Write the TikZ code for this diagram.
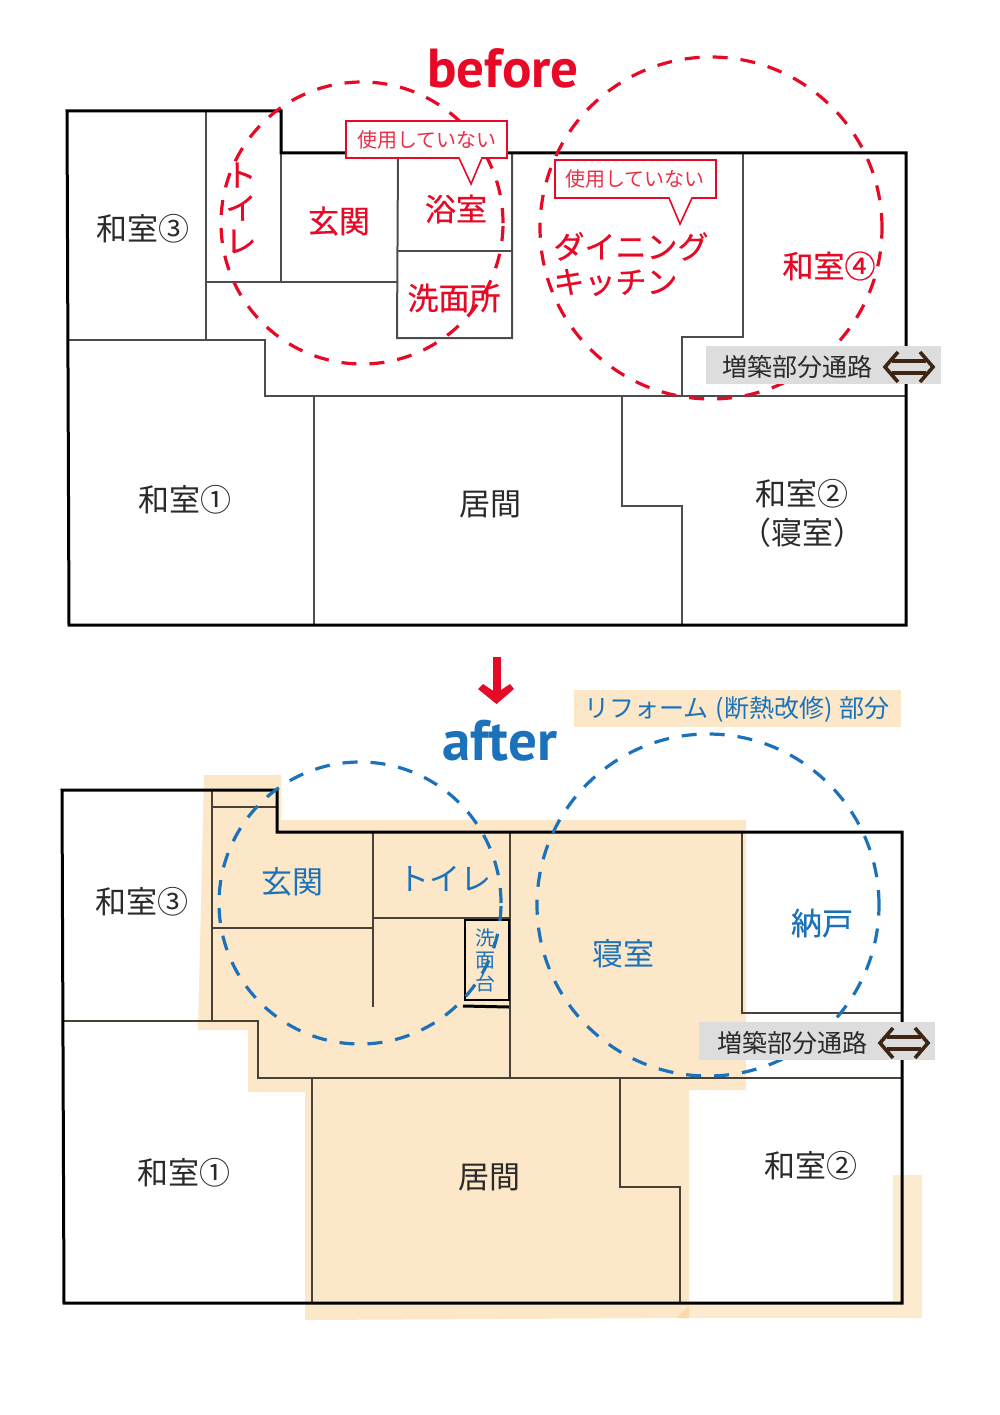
\documentclass[tikz,border=0pt]{standalone}
\usepackage{fontspec}
\setmainfont{Noto Sans CJK JP}
\newfontfamily\latinb{PT Sans}[BoldFont={PT Sans Bold}]
\definecolor{redc}{HTML}{E60A26}
\definecolor{bluec}{HTML}{1B72BA}
\definecolor{peach}{HTML}{FCE8C8}
\definecolor{peachb}{HTML}{FDEBD0}
\definecolor{peachc}{HTML}{F9D9A8}
\definecolor{grayb}{HTML}{DDDDDD}
\definecolor{brownc}{HTML}{3E2412}
\definecolor{inkc}{HTML}{2A2A2A}
\tikzset{
 thickwall/.style={line width=3pt,black,line join=miter},
 wall/.style={line width=2pt,black!70!white},
 wallb/.style={line width=2pt,black!72!peach},
 redcirc/.style={line width=3.2pt,redc,dash pattern=on 15pt off 13pt},
 bluecirc/.style={line width=3.2pt,bluec,dash pattern=on 15pt off 13pt},
 room/.style={font=\fontsize{31}{36}\selectfont,text=inkc,inner sep=0pt,align=center},
 redroom/.style={font=\fontsize{31}{35}\selectfont\addfontfeature{FakeBold=0.6},text=redc,inner sep=0pt,align=center},
 blueroom/.style={font=\fontsize{31}{36}\selectfont,text=bluec,inner sep=0pt,align=center},
 callout/.style={draw=redc,line width=1.6pt,fill=white,line join=miter},
 calltext/.style={font=\fontsize{20}{24}\selectfont,text=redc!85!white,inner sep=0pt},
 passbox/.style={fill=grayb,inner sep=0pt},
 passtext/.style={font=\fontsize{25}{30}\selectfont,text=inkc,inner sep=0pt},
 dblarrow/.style={line width=3.6pt,brownc,line join=miter},
 title/.style={font=\latinb\bfseries\fontsize{55}{58}\selectfont,inner sep=0pt},
}
\begin{document}
\begin{tikzpicture}[x=1pt,y=-1pt]
\useasboundingbox (0,0) rectangle (1000,1415);
% ---------- before ----------
\node[title,text=redc] (tb) at (503,68.5) {before};
\draw[wall] (206,111)--(206,340);
\draw[wall] (281,153)--(281,282);
\draw[wall] (206,282)--(397,282);
\draw[wall] (398,153)--(397,338)--(512,338)--(512,153);
\draw[wall] (397,251)--(512,251);
\draw[wall] (68,340)--(265,340)--(265,396)--(906,396);
\draw[wall] (314,396)--(314,625);
\draw[wall] (622,396)--(622,506)--(682,506)--(682,625);
\draw[wall] (743,153)--(743,337)--(682,337)--(682,396);
\draw[thickwall] (67,111)--(281,111)--(281,153)--(906,153)--(906,625)--(69,625)--cycle;
\node[redcirc,draw,circle,minimum size=282pt,inner sep=0pt] (c1) at (362,223) {};
\node[redcirc,draw,circle,minimum size=342pt,inner sep=0pt] (c2) at (711,228) {};
\draw[callout] (346,121)--(507,121)--(507,158)--(482,158)--(471,184)--(459,158)--(346,158)--cycle;
\draw[callout] (555,160)--(716,160)--(716,198)--(692,198)--(680,224)--(669,198)--(555,198)--cycle;
\node[calltext] (n1) at (427,140) {使用していない};
\node[calltext] (n2) at (635,179) {使用していない};
\node[room] (w3) at (143,229) {和室③};
\node[room] (w1) at (185,500) {和室①};
\node[room] (l1) at (490,504) {居間};
\node[room,font=\fontsize{31}{39}\selectfont] (w2) at (802,513) {和室②\\（寝室）};
\node[redroom,font=\fontsize{31}{33}\selectfont\addfontfeature{FakeBold=0.6}] (toi) at (241,208) {ト\\イ\\レ};
\node[redroom] (gen) at (339,221) {玄関};
\node[redroom] (yok) at (456,209) {浴室};
\node[redroom] (sen) at (454,298) {洗面所};
\node[redroom,align=left] (din) at (631,264) {ダイニング\\キッチン};
\node[redroom] (w4) at (829,266) {和室④};
\node[passbox,minimum width=235pt,minimum height=38pt] (pb1) at (823.5,365) {};
\node[passtext] (pt1) at (797,367) {増築部分通路};
\coordinate (a1) at (909,367);
\draw[dblarrow] ([shift={(-11,-15)}]a1)--([shift={(-24,0)}]a1)--([shift={(-11,15)}]a1);
\draw[dblarrow] ([shift={(11,-15)}]a1)--([shift={(24,0)}]a1)--([shift={(11,15)}]a1);
\draw[dblarrow] ([shift={(-17,-6)}]a1)--([shift={(17,-6)}]a1);
\draw[dblarrow] ([shift={(-17,6)}]a1)--([shift={(17,6)}]a1);
% ---------- arrow ----------
\coordinate (ar0) at (496.5,657);
\coordinate (ar1) at (496.5,697);
\draw[line width=8pt,redc] (ar0)--(ar1);
\fill[redc] (478,689)--(483,684)--(496.5,693)--(510,684)--(514,689)--(496.5,704)--cycle;
% ---------- after ----------
\node[fill=peach,minimum width=327pt,minimum height=37pt,inner sep=0pt] (rb) at (737.5,708.5) {};
\node[font=\fontsize{25}{30}\selectfont\addfontfeature{CharacterWidth=Proportional},text=bluec,inner sep=0pt] (rt) at (737,709) {リフォーム\hspace{7pt}（断熱改修）\hspace{7pt}部分};
\node[title,text=bluec,font=\latinb\bfseries\fontsize{57}{60}\selectfont] (ta) at (500,741) {after};
\fill[peach] (204,775)--(281,775)--(281,820)--(746,820)--(746,1090)--(689,1090)--(689,1318)--(305,1320)--(305,1092)--(248,1092)--(248,1030)--(198,1030)--cycle;
\fill[peachb] (689,1303)--(893,1303)--(893,1175)--(922,1175)--(922,1318)--(689,1318)--cycle;
\fill[peachc] (677,1318)--(689,1306)--(689,1318)--cycle;
\draw[wallb] (212,790)--(212,1021);
\draw[wallb] (212,807)--(277,807);
\draw[wallb] (373,832)--(373,1007);
\draw[wallb] (212,928)--(373,928);
\draw[wallb] (373,918)--(509,918);
\draw[wallb] (510,832)--(510,1078);
\draw[line width=2.4pt,black] (465,1000)--(465,920)--(509,920)--(509,1000)--cycle;
\draw[line width=3pt,black] (463,1006)--(509,1007);
\draw[wallb] (62,1021)--(258,1021)--(258,1078)--(902,1078);
\draw[wallb] (312,1078)--(312,1303);
\draw[wallb] (620,1078)--(620,1187)--(680,1187)--(680,1303);
\draw[wallb] (742,832)--(742,1013)--(902,1013);
\draw[thickwall] (62,790)--(277,790)--(277,832)--(902,832)--(902,1303)--(64,1303)--cycle;
\node[bluecirc,draw,circle,minimum size=282pt,inner sep=0pt] (c3) at (360,903) {};
\node[bluecirc,draw,circle,minimum size=342pt,inner sep=0pt] (c4) at (708,905) {};
\node[room] (aw3) at (142,902) {和室③};
\node[room] (aw1) at (184,1173) {和室①};
\node[room] (al) at (489,1177) {居間};
\node[room] (aw2) at (811,1166) {和室②};
\node[blueroom] (ag) at (292,882) {玄関};
\node[blueroom] (at) at (445,879) {トイレ};
\node[blueroom] (as) at (623,954) {寝室};
\node[blueroom,font=\fontsize{31}{36}\selectfont\addfontfeature{FakeBold=0.5}] (an) at (822,923) {納戸};
\node[blueroom,font=\fontsize{20}{22.5}\selectfont] (am) at (485,960) {洗\\面\\台};
\node[passbox,minimum width=236pt,minimum height=38pt] (pb2) at (817,1041) {};
\node[passtext] (pt2) at (792,1043) {増築部分通路};
\coordinate (a2) at (904,1043);
\draw[dblarrow] ([shift={(-11,-15)}]a2)--([shift={(-24,0)}]a2)--([shift={(-11,15)}]a2);
\draw[dblarrow] ([shift={(11,-15)}]a2)--([shift={(24,0)}]a2)--([shift={(11,15)}]a2);
\draw[dblarrow] ([shift={(-17,-6)}]a2)--([shift={(17,-6)}]a2);
\draw[dblarrow] ([shift={(-17,6)}]a2)--([shift={(17,6)}]a2);
\end{tikzpicture}
\end{document}
